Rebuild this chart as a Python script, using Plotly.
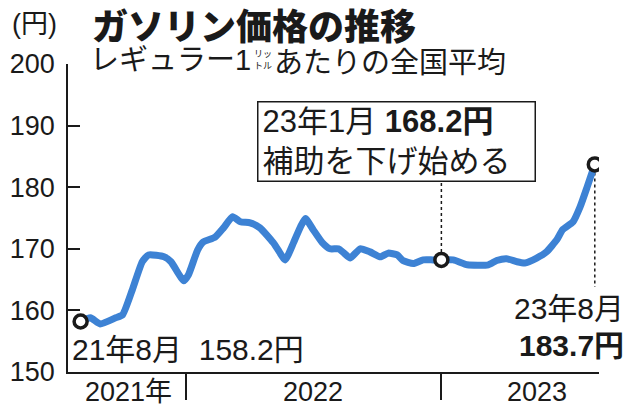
import plotly.graph_objects as go

# ガソリン価格（レギュラー、全国平均、円/L）
dates = ["2021-08-04", "2021-08-18", "2021-09-01", "2021-09-23", "2021-10-03",
         "2021-10-17", "2021-10-31", "2021-11-09", "2021-12-01", "2021-12-11",
         "2021-12-21", "2021-12-29", "2022-01-05", "2022-01-18", "2022-01-26",
         "2022-02-12", "2022-02-24", "2022-03-09", "2022-03-20", "2022-04-03",
         "2022-04-17", "2022-05-06", "2022-05-13", "2022-05-23", "2022-06-04",
         "2022-06-14", "2022-06-21", "2022-07-02", "2022-07-15", "2022-07-26",
         "2022-08-07", "2022-08-14", "2022-08-24", "2022-09-07", "2022-09-21",
         "2022-10-06", "2022-10-17", "2022-10-30", "2022-11-07", "2022-11-22",
         "2022-12-06", "2022-12-20", "2023-01-01", "2023-01-18", "2023-02-07",
         "2023-03-09", "2023-03-21", "2023-04-04", "2023-04-19", "2023-04-30",
         "2023-05-17", "2023-05-31", "2023-06-15", "2023-06-23", "2023-07-08",
         "2023-07-18", "2023-07-28", "2023-08-08"]
prices = [158.2, 158.8, 157.8, 158.8, 159.3,
          163.4, 167.9, 169.0, 168.7, 167.9,
          166.1, 164.8, 165.8, 169.8, 171.1,
          171.9, 173.4, 175.2, 174.4, 174.2,
          173.4, 171.0, 169.8, 168.2, 171.0,
          173.6, 174.9, 173.1, 171.0, 170.0,
          170.0, 169.4, 168.5, 170.0, 169.5,
          168.7, 169.3, 169.0, 168.1, 167.6,
          168.2, 168.2, 168.2, 168.2, 167.4,
          167.4, 168.1, 168.4, 167.9, 167.7,
          168.5, 169.5, 171.5, 173.1, 174.4,
          176.8, 180.0, 183.7]

highlight_idx = [0, 42, len(prices) - 1]

y_ticks = [150, 160, 170, 180, 190, 200]
year_breaks = ["2022-01-01", "2023-01-01"]
year_labels = ["2021年", "2022", "2023"]
year_label_at = ["2021-10-11", "2022-07-02", "2023-05-18"]

W, H = 640, 413
L, R, T, B = 68, 41, 64, 41
NUM = "Liberation Sans, Noto Sans CJK JP"
JP = "Noto Sans CJK JP"
INK = "#1a1a1a"
BLUE = "#3d82d4"


def px(x):
    return (x - L) / (W - L - R)


def py(y):
    return (H - B - y) / (H - T - B)


fig = go.Figure()
fig.add_trace(go.Scatter(
    x=dates, y=prices, mode="lines",
    line=dict(color=BLUE, width=7, shape="spline", smoothing=0.5),
    hoverinfo="skip"))
fig.add_trace(go.Scatter(
    x=[dates[i] for i in highlight_idx], y=[prices[i] for i in highlight_idx],
    mode="markers",
    marker=dict(size=13, color="white", line=dict(color=INK, width=3.5)),
    hoverinfo="skip"))

# 点線の引き出し線
fig.add_shape(type="line", xref="x", yref="y",
              x0=dates[42], x1=dates[42], y0=prices[42] + 1.3, y1=180.7,
              line=dict(color=INK, width=1.5, dash="dot"), layer="below")
fig.add_shape(type="line", xref="x", yref="y",
              x0=dates[-1], x1=dates[-1], y0=prices[-1] - 1.3, y1=163.8,
              line=dict(color=INK, width=1.5, dash="dot"), layer="below")

ann = []
# 見出し
ann.append(dict(text="(円)", x=px(10), y=py(24), xanchor="left", yanchor="middle",
                font=dict(family=NUM, size=27, color=INK)))
ann.append(dict(text="ガソリン価格の推移", x=px(90), y=py(24), xanchor="left",
                yanchor="middle", font=dict(family=JP, size=36, color=INK, weight=900)))
ann.append(dict(text="レギュラー1", x=px(88), y=py(60), xanchor="left", yanchor="middle",
                font=dict(family=NUM, size=29, color=INK)))
ann.append(dict(text="リッ<br>トル", x=px(252), y=py(59), xanchor="left", yanchor="middle",
                font=dict(family=JP, size=9, color=INK)))
ann.append(dict(text="あたりの全国平均", x=px(272), y=py(60), xanchor="left", yanchor="middle",
                font=dict(family=JP, size=29, color=INK)))

# 注記ボックス
ann.append(dict(text="23年1月 <b>168.2円</b><br>補助を下げ始める",
                x=px(257), y=py(101), xanchor="left", yanchor="top", align="left",
                bordercolor=INK, borderwidth=1.5, borderpad=4, bgcolor="white",
                width=268, height=70, valign="middle",
                font=dict(family=NUM, size=31, color=INK)))

# 始点・終点ラベル
ann.append(dict(text="21年8月  158.2円", x=px(70), y=py(349), xanchor="left",
                yanchor="middle", font=dict(family=NUM, size=30, color=INK)))
ann.append(dict(text="23年8月", x=px(626), y=py(308), xanchor="right",
                yanchor="middle", font=dict(family=NUM, size=30, color=INK)))
ann.append(dict(text="<b>183.7円</b>", x=px(626), y=py(345), xanchor="right",
                yanchor="middle", font=dict(family=NUM, size=30, color=INK)))

for lab, at in zip(year_labels, year_label_at):
    ann.append(dict(text=lab, x=at, xref="x", y=py(392), yref="paper",
                    xanchor="center", yanchor="middle",
                    font=dict(family=NUM, size=27, color=INK)))

for a in ann:
    a.setdefault("xref", "paper")
    a.setdefault("yref", "paper")
    a["showarrow"] = False

fig.update_layout(
    width=W, height=H,
    margin=dict(l=L, r=R, t=T, b=B),
    paper_bgcolor="white", plot_bgcolor="white",
    showlegend=False,
    annotations=ann,
    xaxis=dict(type="date", range=["2021-07-17", "2023-08-14"],
               showgrid=False, zeroline=False, automargin=False,
               showline=True, linecolor=INK, linewidth=1.5,
               tickvals=year_breaks, ticks="outside", ticklen=26,
               tickwidth=1.5, tickcolor=INK, showticklabels=False),
    yaxis=dict(range=[150, 200], showgrid=False, zeroline=False, automargin=False,
               showline=True, linecolor=INK, linewidth=1.5,
               tickvals=y_ticks, ticks="inside", ticklen=12,
               tickwidth=1.5, tickcolor=INK, ticklabelstandoff=6,
               tickfont=dict(family=NUM, size=27, color=INK)),
)

fig.write_html("out.html", config={"displayModeBar": False},
               post_script="document.body.style.margin='0';")
